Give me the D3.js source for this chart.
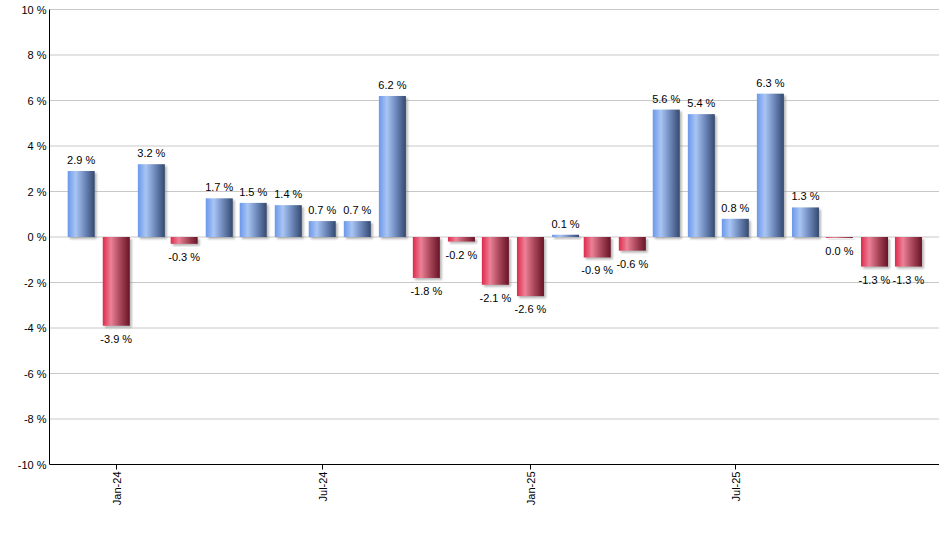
<!DOCTYPE html>
<html>
<head>
<meta charset="utf-8">
<script src="https://cdn.jsdelivr.net/npm/d3@7"></script>
<style>
  body { margin: 0; background: #fff; }
  svg text { font-family: "Liberation Sans", Arial, sans-serif; }
</style>
</head>
<body>
<svg id="chart" width="940" height="550"></svg>
<script>
// monthly returns, Dec-23 .. Dec-25
const months = ["2023-12","2024-01","2024-02","2024-03","2024-04","2024-05","2024-06",
  "2024-07","2024-08","2024-09","2024-10","2024-11","2024-12","2025-01","2025-02",
  "2025-03","2025-04","2025-05","2025-06","2025-07","2025-08","2025-09","2025-10",
  "2025-11","2025-12"];
const values = [2.9, -3.9, 3.2, -0.3, 1.7, 1.5, 1.4, 0.7, 0.7, 6.2, -1.8, -0.2, -2.1,
  -2.6, 0.1, -0.9, -0.6, 5.6, 5.4, 0.8, 6.3, 1.3, -0.04, -1.3, -1.3];
const yTicks = [-10, -8, -6, -4, -2, 0, 2, 4, 6, 8, 10];

const parse = d3.timeParse("%Y-%m");
const data = months.map((m, i) => ({ date: parse(m), value: values[i] }));

const svg = d3.select("#chart");
const mLeft = 49.5, mRight = 939, mTop = 9.5, mBottom = 464.5;

const x = d3.scaleTime()
  .domain([new Date(2023, 10, 3), new Date(2025, 11, 28)])
  .range([mLeft, mRight]);
const y = d3.scaleLinear().domain([-10, 10]).range([mBottom, mTop]);
const barW = 27;

// gradients
const defs = svg.append("defs");
function grad(id, stops) {
  const g = defs.append("linearGradient").attr("id", id)
    .attr("x1", "0%").attr("x2", "100%").attr("y1", "0%").attr("y2", "0%");
  stops.forEach(s => g.append("stop").attr("offset", s[0]).attr("stop-color", s[1]));
}
grad("gBlue", [["0%", "#6b98ea"], ["30%", "#a9c5f4"], ["65%", "#6b86b8"], ["100%", "#34496f"]]);
grad("gRed", [["0%", "#de2a4b"], ["30%", "#ec8197"], ["65%", "#a84559"], ["100%", "#681326"]]);
defs.append("filter").attr("id", "blur").append("feGaussianBlur").attr("stdDeviation", 0.8);

// gridlines
svg.append("g").selectAll("line").data(yTicks.filter(t => t > -10)).join("line")
  .attr("x1", mLeft).attr("x2", mRight)
  .attr("y1", d => y(d)).attr("y2", d => y(d))
  .attr("stroke", "#c8c8c8").attr("stroke-width", 1);

// y labels
svg.append("g").selectAll("text").data(yTicks).join("text")
  .attr("x", mLeft - 3).attr("y", d => y(d) + 4)
  .attr("text-anchor", "end").attr("font-size", 11).attr("fill", "#000")
  .text(d => d + " %");

// bars
const bars = svg.append("g");
bars.selectAll("rect.shadow").data(data).join("rect").attr("class", "shadow")
  .attr("x", d => x(d.date) - barW / 2 + 2)
  .attr("y", d => Math.min(y(d.value), y(0)) + 2)
  .attr("width", barW)
  .attr("height", d => Math.abs(y(d.value) - y(0)))
  .attr("fill", "#888").attr("opacity", 0.6).attr("filter", "url(#blur)");
bars.selectAll("rect.bar").data(data).join("rect").attr("class", "bar")
  .attr("x", d => x(d.date) - barW / 2)
  .attr("y", d => Math.min(y(d.value), y(0)))
  .attr("width", barW)
  .attr("height", d => Math.max(0.8, Math.abs(y(d.value) - y(0))))
  .attr("fill", d => d.value >= 0 ? "url(#gBlue)" : "url(#gRed)");

// value labels
const fmt = v => (Math.abs(v) < 0.05 ? 0 : v).toFixed(1) + " %";
svg.append("g").selectAll("text").data(data).join("text")
  .attr("x", d => x(d.date))
  .attr("y", d => d.value >= 0 ? y(d.value) - 7 : y(d.value) + 17)
  .attr("text-anchor", "middle").attr("font-size", 11).attr("fill", "#000")
  .text(d => fmt(d.value));

// axes lines
svg.append("line").attr("x1", mLeft).attr("x2", mLeft).attr("y1", mTop).attr("y2", mBottom)
  .attr("stroke", "#000");
svg.append("line").attr("x1", mLeft).attr("x2", mRight).attr("y1", mBottom).attr("y2", mBottom)
  .attr("stroke", "#000");

// x ticks
const xTicks = x.ticks(d3.timeMonth.every(6));
const xa = svg.append("g").selectAll("g").data(xTicks).join("g")
  .attr("transform", d => `translate(${Math.round(x(d)) + 0.5},${mBottom})`);
xa.append("line").attr("y2", 5).attr("stroke", "#000");
xa.append("text")
  .attr("transform", "rotate(-90)")
  .attr("x", -7).attr("y", 4)
  .attr("text-anchor", "end").attr("font-size", 11).attr("fill", "#000")
  .text(d3.timeFormat("%b-%y"));
</script>
</body>
</html>
